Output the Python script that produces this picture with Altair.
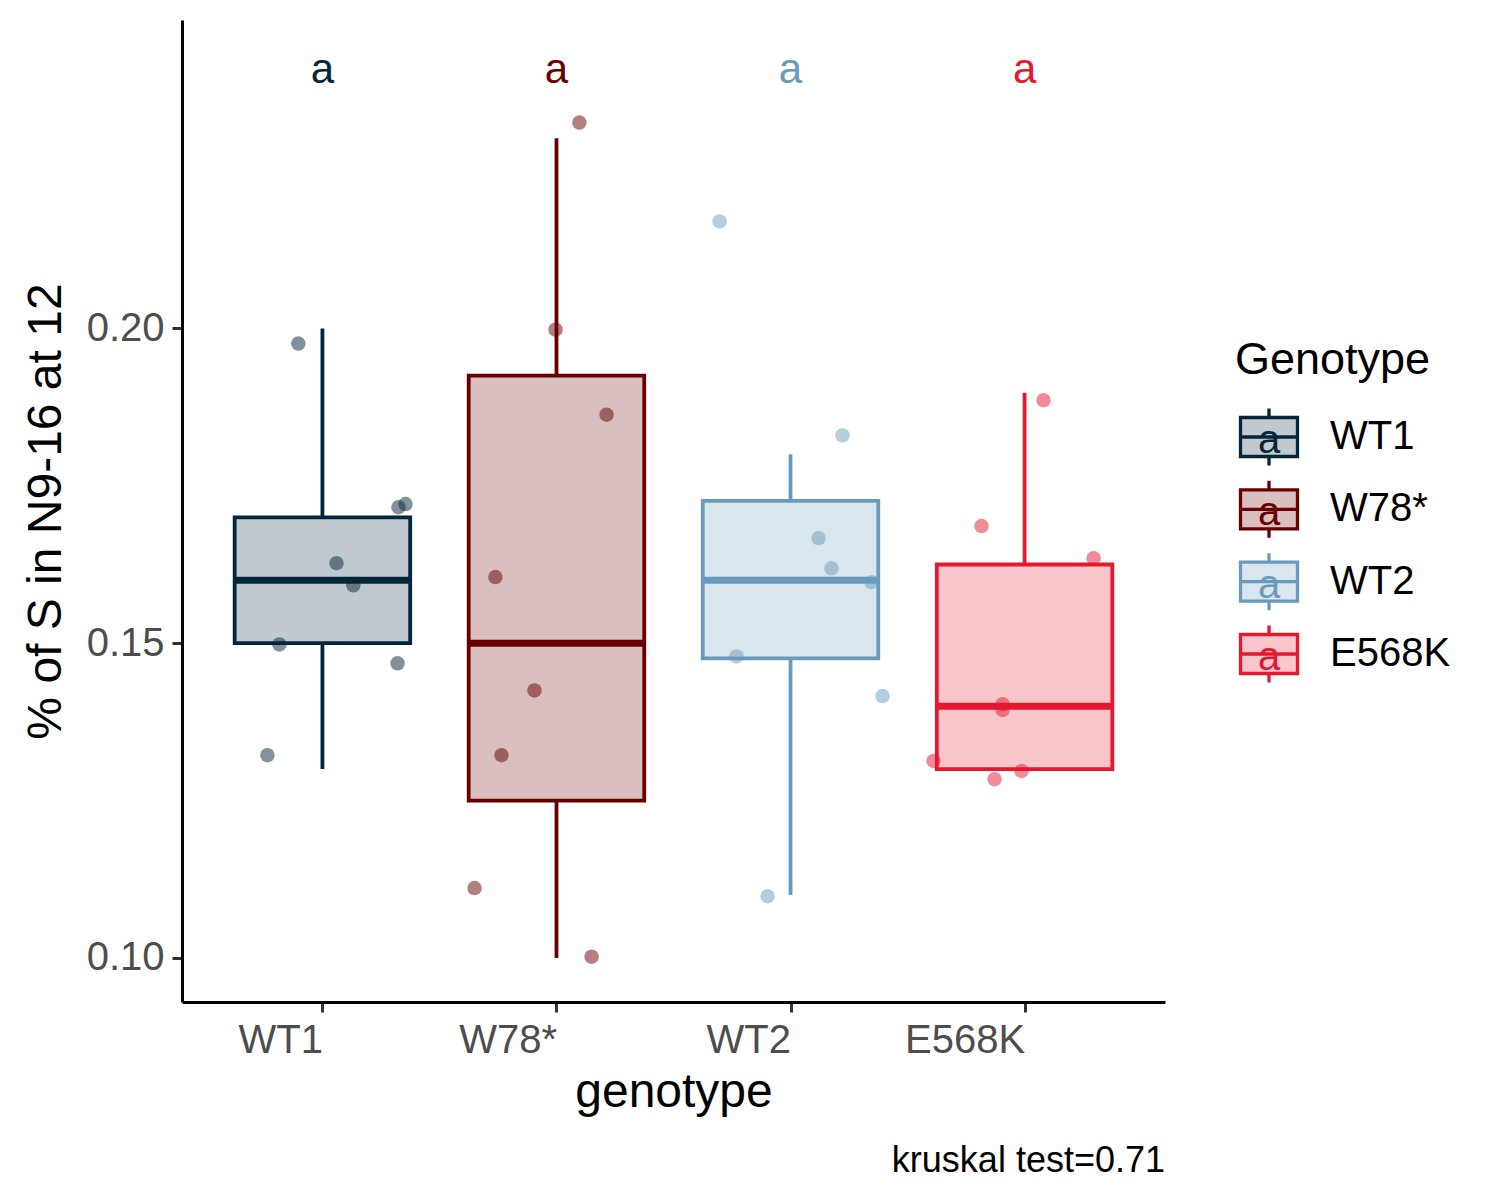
import altair as alt
import pandas as pd

FONT = "Liberation Sans"

# ---- categories / colours ----
genotypes = ["WT1", "W78*", "WT2", "E568K"]
colors = ["#03263A", "#680000", "#6B9BBC", "#E5182F"]
positions = [1, 2, 3, 4]

# ---- box statistics ----
whisker_low = [0.130, 0.100, 0.110, 0.130]
q1 = [0.150, 0.125, 0.1476, 0.130]
median = [0.160, 0.150, 0.160, 0.140]
q3 = [0.170, 0.1925, 0.1726, 0.1625]
whisker_high = [0.200, 0.2302, 0.180, 0.1898]

# ---- significance letters ----
letters = ["a", "a", "a", "a"]
letter_value = [0.2411, 0.2411, 0.2411, 0.2411]

# ---- jittered points (offset in category units, value) ----
pt_genotype = ["WT1"] * 8 + ["W78*"] * 8 + ["WT2"] * 8 + ["E568K"] * 8
pt_jitter = [
    -0.103, 0.060, 0.132, -0.184, -0.235, 0.321, 0.325, 0.355,
    0.098, -0.004, 0.214, -0.261, -0.094, -0.235, -0.350, 0.150,
    -0.303, 0.222, 0.120, 0.175, 0.346, -0.231, 0.393, -0.098,
    0.081, -0.184, 0.295, -0.094, -0.094, -0.389, -0.013, -0.128,
]
pt_value = [
    0.1976, 0.1627, 0.1592, 0.1498, 0.1322, 0.1468, 0.1716, 0.1721,
    0.2327, 0.1998, 0.1863, 0.1605, 0.1425, 0.1322, 0.1111, 0.1002,
    0.2170, 0.1830, 0.1667, 0.1619, 0.1597, 0.1479, 0.1416, 0.1098,
    0.1886, 0.1686, 0.1635, 0.1403, 0.1394, 0.1313, 0.1297, 0.1284,
]

y_ticks = [0.10, 0.15, 0.20]
legend_title = ["Genotype"]
caption = "kruskal test=0.71"

box_df = pd.DataFrame({
    "genotype": genotypes, "pos": positions, "low": whisker_low, "q1": q1,
    "median": median, "q3": q3, "high": whisker_high,
    "letter": letters, "letter_value": letter_value,
})
pos_map = dict(zip(genotypes, positions))
pts_df = pd.DataFrame({
    "genotype": pt_genotype,
    "jitter": pt_jitter,
    "value": pt_value,
})
pts_df["pos"] = pts_df["genotype"].map(pos_map)

label_expr = "[" + ",".join("'" + g + "'" for g in genotypes) + "][datum.value-1]"

x_scale = alt.Scale(domain=[0.4, 4.6], nice=False, zero=False)
y_scale = alt.Scale(domain=[0.093, 0.249], nice=False, zero=False)
x_axis = alt.Axis(
    values=positions, labelExpr=label_expr, title="genotype", grid=False,
    labelAlign="right", labelFontSize=40, labelColor="#4D4D4D", labelPadding=8,
    labelFont=FONT, titleFont=FONT, titleFontSize=48, titleFontWeight="normal",
    titleColor="black", titlePadding=8, tickSize=10, tickWidth=3,
    tickColor="#333333", domainColor="black", domainWidth=3,
)
y_axis = alt.Axis(
    values=y_ticks, format=".2f", title="% of S in N9-16 at 12", grid=False,
    labelFontSize=40, labelColor="#4D4D4D", labelPadding=8, labelFont=FONT,
    titleFont=FONT, titleFontSize=48, titleFontWeight="normal",
    titleColor="black", titlePadding=16, tickSize=10, tickWidth=3,
    tickColor="#333333", domainColor="black", domainWidth=3,
)

def X(field):
    return alt.X(field, type="quantitative", scale=x_scale, axis=x_axis)

def Y(field):
    return alt.Y(field, type="quantitative", scale=y_scale, axis=y_axis)

col_scale = alt.Scale(domain=genotypes, range=colors)
stroke_enc = alt.Stroke("genotype:N", scale=col_scale, legend=None)
fill_enc = alt.Fill("genotype:N", scale=col_scale, legend=None)
color_enc = alt.Color("genotype:N", scale=col_scale, legend=None)

base = alt.Chart(box_df).transform_calculate(
    left="datum.pos - 0.375", right="datum.pos + 0.375"
)

whisk_lo = base.mark_rule(strokeWidth=3.8).encode(
    x=X("pos"), y=Y("low"), y2="q1", color=color_enc)
whisk_hi = base.mark_rule(strokeWidth=3.8).encode(
    x=X("pos"), y=Y("q3"), y2="high", color=color_enc)
box = base.mark_bar(fillOpacity=0.25, strokeWidth=3.8).encode(
    x=X("left"), x2="right", y=Y("q1"), y2="q3", fill=fill_enc, stroke=stroke_enc)
med = base.mark_rule(strokeWidth=7).encode(
    x=X("left"), x2="right", y=Y("median"), color=color_enc)

points = alt.Chart(pts_df).transform_calculate(
    xj="datum.pos + datum.jitter"
).mark_circle(size=210, opacity=0.5).encode(
    x=X("xj"), y=Y("value"), color=color_enc)

letters_layer = alt.Chart(box_df).mark_text(
    fontSize=42, font=FONT, baseline="middle", align="center"
).encode(x=X("pos"), y=Y("letter_value"), text="letter:N", color=color_enc)

main = alt.layer(whisk_lo, whisk_hi, box, med, points, letters_layer).properties(
    width=983, height=982,
    title=alt.TitleParams(caption, orient="bottom", anchor="end", fontSize=36,
                          fontWeight="normal", font=FONT, color="black", offset=28),
)

# ---- hand-built legend ----
legend_df = pd.DataFrame({"genotype": genotypes, "letter": letters})
title_df = pd.DataFrame({"title": legend_title})
ly = alt.Y("genotype:N",
           scale=alt.Scale(type="point", domain=genotypes, range=[417, 634], padding=0),
           axis=None)
glyph_path = "M-1,-0.684H1V0.684H-1Z M0,-1V-0.684 M0,0.684V1 M-1,0H1"

glyph = alt.Chart(legend_df).mark_point(
    shape=glyph_path, size=3249, fillOpacity=0.25, strokeOpacity=1, opacity=1, strokeWidth=3.3
).encode(x=alt.value(44), y=ly, fill=fill_enc, stroke=stroke_enc)
glyph_letter = alt.Chart(legend_df).mark_text(
    fontSize=40, font=FONT, baseline="middle", align="center", dy=4
).encode(x=alt.value(44), y=ly, text="letter:N", color=color_enc)
glyph_label = alt.Chart(legend_df).mark_text(
    fontSize=40, font=FONT, baseline="middle", align="left", color="black"
).encode(x=alt.value(105), y=ly, text="genotype:N")
ltitle = alt.Chart(title_df).mark_text(
    fontSize=45, font=FONT, baseline="middle", align="left", color="black"
).encode(x=alt.value(10), y=alt.value(340), text="title:N")

legend = alt.layer(glyph, glyph_letter, glyph_label, ltitle).properties(width=250, height=982)

chart = alt.hconcat(main, legend, spacing=60).properties(
    padding={"left": 14, "top": 12, "right": 5, "bottom": 5}
).configure(font=FONT).configure_view(stroke=None, strokeWidth=0)

chart.save("out.html", embed_options={"renderer": "svg", "actions": False})
